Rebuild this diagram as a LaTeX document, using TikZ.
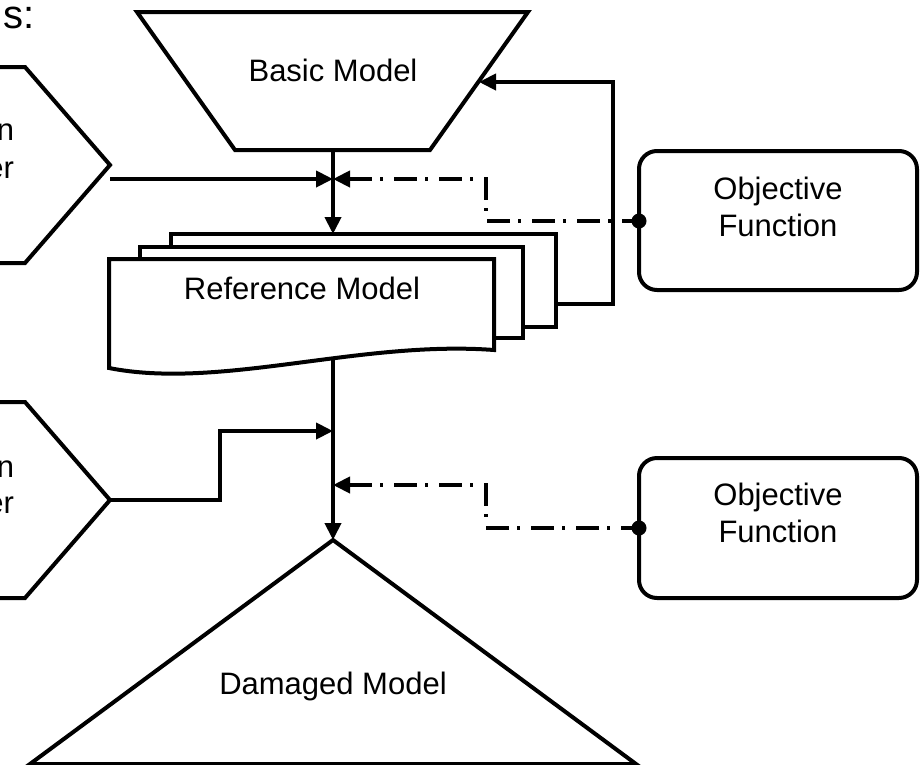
\documentclass[tikz,border=0pt]{standalone}
\usepackage{fontspec}
\setmainfont{Liberation Sans}
\usetikzlibrary{arrows.meta}
\begin{document}
\begin{tikzpicture}[x=1pt,y=-1pt, line width=4pt, line join=miter,
  conn/.style={-{Triangle[length=17pt,width=16pt]}},
  backconn/.style={{Triangle[length=17pt,width=16pt]}-},
  dashdot/.style={dash pattern=on 23pt off 8pt on 3pt off 11pt},
  lbl/.style={font=\fontsize{31}{37}\selectfont, align=center, inner sep=0pt},
  shapebox/.style={draw, fill=white}]
\useasboundingbox (0,0) rectangle (922,764);
\clip (0,0) rectangle (922,764);

% ---------- shapes ----------
% input hexagons (cut by the left edge)
\draw (-10,67) -- (25,67) -- (110,165) -- (25,263) -- (-10,263);
\draw (-10,402) -- (25,402) -- (110,500) -- (25,598) -- (-10,598);
% basic model trapezoid
\draw[shapebox] (137,12) -- (528,12) -- (430,150) -- (235,150) -- cycle;
% reference model stack
\draw[shapebox] (171,234) rectangle (556,327);
\draw[shapebox] (140,247) rectangle (523,338);
\draw[shapebox] (109,259) -- (494,259) -- (494,350)
   .. controls (360,340) and (220,390) .. (109,368) -- cycle;
% objective function boxes
\draw[shapebox, rounded corners=18pt] (639,151) rectangle (917,290);
\draw[shapebox, rounded corners=18pt] (639,458) rectangle (917,598);
% damaged model triangle
\draw[shapebox] (333,540) -- (30,764) -- (636,764) -- cycle;

% ---------- labels ----------
\node[font=\fontsize{40}{48}\selectfont, inner sep=0pt, anchor=base west] (title) at (2,28) {s:};
\node[lbl, anchor=base east] (h1a) at (16,140) {n};
\node[lbl, anchor=base east] (h1b) at (16,178) {er};
\node[lbl, anchor=base east] (h2a) at (16,477) {n};
\node[lbl, anchor=base east] (h2b) at (16,513) {er};
\node[lbl, anchor=base] (basic) at (333,81) {Basic Model};
\node[lbl, anchor=base] (ref) at (302,299) {Reference Model};
\node[lbl] (obj1) at (778,207) {Objective\\Function};
\node[lbl] (obj2) at (778,513) {Objective\\Function};
\node[lbl, anchor=base] (dam) at (333,694) {Damaged Model};

% ---------- connector points ----------
\coordinate (h1out) at (110,179);
\coordinate (h2out) at (110,500);
\coordinate (basicbot) at (333,150);
\coordinate (j1) at (333,179);
\coordinate (reftop) at (333,234);
\coordinate (refbot) at (333,358);
\coordinate (j2) at (333,431);
\coordinate (j3) at (333,485);
\coordinate (damtop) at (333,540);
\coordinate (st1) at (220,500);
\coordinate (st2) at (220,431);
\coordinate (fb0) at (556,304);
\coordinate (fb1) at (613,304);
\coordinate (fb2) at (613,82);
\coordinate (basicright) at (479,82);
\coordinate (o1dot) at (639,221);
\coordinate (o2dot) at (639,528);
\coordinate (d1a) at (486,179);
\coordinate (d1b) at (486,221);
\coordinate (d2a) at (486,485);
\coordinate (d2b) at (486,528);

% ---------- connectors ----------
\draw[conn] (basicbot) -- (reftop);
\draw[conn] (h1out) -- (j1);
\draw[conn] (refbot) -- (damtop);
\draw[conn] (h2out) -- (st1) -- (st2) -- (j2);
\draw[conn] (fb0) -- (fb1) -- (fb2) -- (basicright);
\draw[dashdot, backconn] (j1) -- (d1a) -- (d1b) -- (o1dot);
\draw[dashdot, backconn] (j3) -- (d2a) -- (d2b) -- (o2dot);
\fill (o1dot) circle (7.5pt);
\fill (o2dot) circle (7.5pt);
\end{tikzpicture}
\end{document}
